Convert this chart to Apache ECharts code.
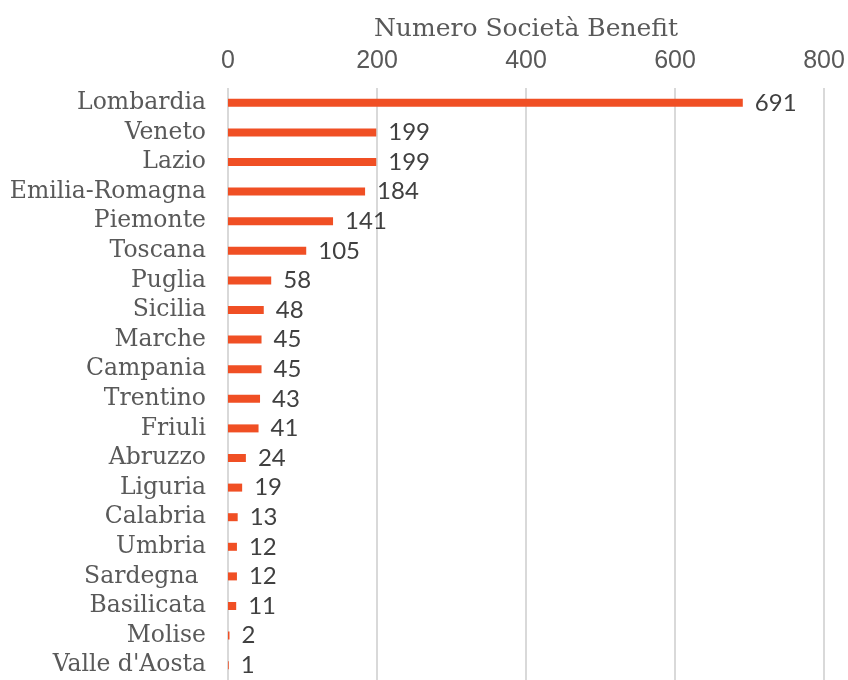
<!DOCTYPE html>
<html>
<head>
<meta charset="utf-8">
<script src="https://cdn.jsdelivr.net/npm/echarts@6/dist/echarts.min.js"></script>
<style>
  html, body { margin: 0; padding: 0; background: #fff; }
  #chart { width: 848px; height: 680px; }
</style>
</head>
<body>
<div id="chart"></div>
<script>
// Regions, ordered from most to fewest companies
const regions = ['Lombardia', 'Veneto', 'Lazio', 'Emilia-Romagna', 'Piemonte', 'Toscana', 'Puglia',
  'Sicilia', 'Marche', 'Campania', 'Trentino', 'Friuli', 'Abruzzo', 'Liguria', 'Calabria',
  'Umbria', 'Sardegna ', 'Basilicata', 'Molise', "Valle d'Aosta"];
const counts = [691, 199, 199, 184, 141, 105, 58, 48, 45, 45, 43, 41, 24, 19, 13, 12, 12, 11, 2, 1];
const axisTicks = [0, 200, 400, 600, 800];
const axisTitle = 'Numero Società Benefit';

const chart = echarts.init(document.getElementById('chart'), null, { renderer: 'canvas' });
chart.setOption({
  animation: false,
  // the last row runs slightly past the bottom edge of the canvas
  grid: { left: 228, width: 596, top: 88, height: 597, containLabel: false },
  xAxis: {
    type: 'value',
    position: 'top',
    min: axisTicks[0],
    max: axisTicks[axisTicks.length - 1],
    interval: axisTicks[1] - axisTicks[0],
    name: axisTitle,
    nameLocation: 'middle',
    nameGap: 46,
    nameTextStyle: { fontFamily: 'DejaVu Serif', fontSize: 25, color: '#595959' },
    axisLine: { show: false },
    axisTick: { show: false },
    axisLabel: { fontFamily: 'Liberation Sans', fontSize: 25, color: '#595959', margin: 14 },
    splitLine: { show: true, lineStyle: { color: '#d9d9d9', width: 2 } }
  },
  yAxis: {
    type: 'category',
    data: regions,
    inverse: true,
    axisLine: { show: false },
    axisTick: { show: false },
    axisLabel: {
      interval: 0, fontFamily: 'DejaVu Serif', fontSize: 23.5, color: '#595959',
      margin: 22, padding: [4, 0, 0, 0]
    }
  },
  series: [{
    type: 'bar',
    data: counts,
    barWidth: 8,
    itemStyle: { color: '#f04f24' },
    label: {
      show: true,
      position: 'right',
      distance: 12,
      fontFamily: 'Lato',
      fontSize: 24,
      color: '#404040'
    }
  }]
});
</script>
</body>
</html>
